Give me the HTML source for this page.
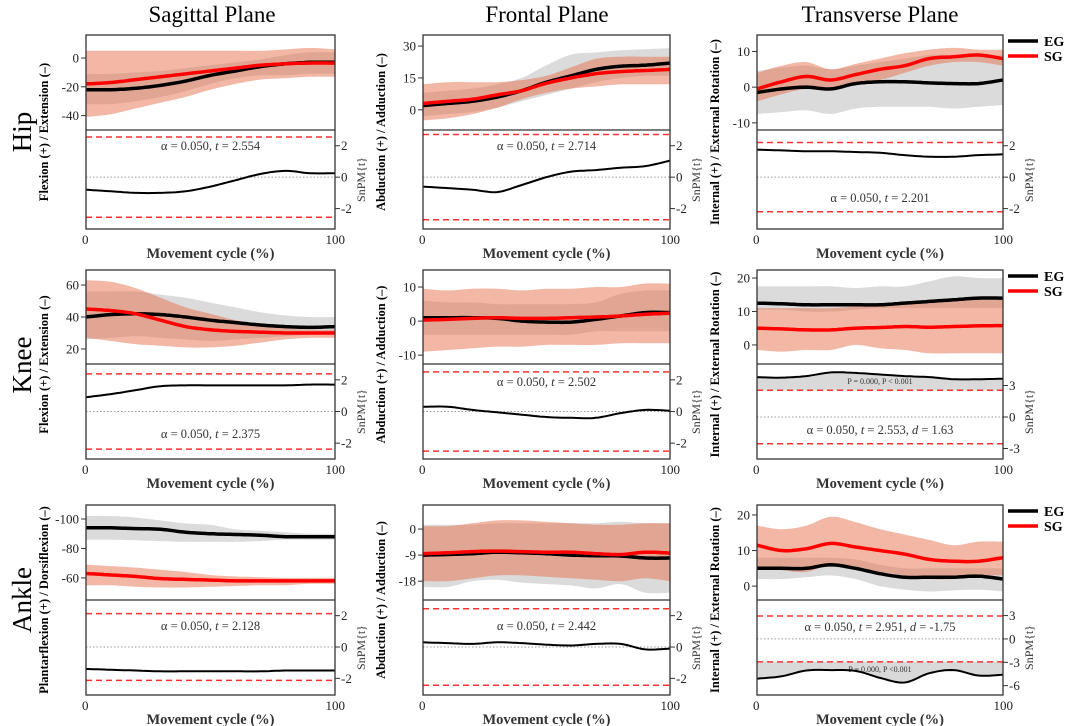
<!DOCTYPE html>
<html><head><meta charset="utf-8">
<style>
html,body{margin:0;padding:0;background:#fff;}
svg{display:block;font-family:"Liberation Serif",serif;}
</style></head>
<body>
<svg id="fig" width="1065" height="726" viewBox="0 0 1065 726" xmlns="http://www.w3.org/2000/svg">
<text x="212" y="22" font-size="23" text-anchor="middle">Sagittal Plane</text>
<text x="547" y="22" font-size="23" text-anchor="middle">Frontal Plane</text>
<text x="880" y="22" font-size="23" text-anchor="middle">Transverse Plane</text>
<text transform="translate(31,132) rotate(-90)" font-size="27" text-anchor="middle">Hip</text>
<text transform="translate(31,365) rotate(-90)" font-size="27" text-anchor="middle">Knee</text>
<text transform="translate(31,600) rotate(-90)" font-size="27" text-anchor="middle">Ankle</text>
</svg>
<script>
// x grid (% movement cycle)
const cyclePct = [0,10,20,30,40,50,60,70,80,90,100];

// Hip sagittal
const hipSagEG = [-22,-22,-21,-19,-16,-12,-9,-6,-4,-3,-3];
const hipSagEGLo = [-32,-32,-30,-27,-23,-18,-14,-12,-12,-11,-11];
const hipSagEGHi = [-11,-11,-10,-9,-7,-5,-3,-1,2,4,4];
const hipSagSG = [-18,-17,-15,-13,-11,-9,-7,-5,-4,-3.5,-3.5];
const hipSagSGLo = [-41,-39,-35,-31,-27,-22,-18,-15,-14,-13,-13];
const hipSagSGHi = [5,5,5,5,5,5,5,5,6,7,6];
const hipSagT = [-0.8,-0.9,-1.0,-1.0,-0.9,-0.6,-0.2,0.2,0.4,0.25,0.25];
// Hip frontal
const hipFroEG = [2,3,4,6,9,13,16,19,20.5,21,22];
const hipFroEGLo = [-3,-2,-1,1,4,7,10,13,15,16,16];
const hipFroEGHi = [8,9,10,12,15,21,26,27,28,28.5,29];
const hipFroSG = [3,4,5,7,9,12.5,15,17,18,18.5,19];
const hipFroSGLo = [-5,-4,-2,1,5,8,10,11,12,12,12];
const hipFroSGHi = [12,13,13,13,14,16,20,24,25,25,25];
const hipFroT = [-0.6,-0.7,-0.8,-0.95,-0.5,0,0.35,0.45,0.6,0.7,1.05];
// Hip transverse
const hipTraEG = [-1.5,-0.5,0,-0.5,1,1.5,1.5,1.2,1,1,2];
const hipTraEGLo = [-7.5,-7,-6.5,-7.5,-6,-5.5,-5.5,-5.5,-6,-5.5,-5];
const hipTraEGHi = [4.5,5.5,6,5,6,7,8,9,9,8.5,9];
const hipTraSG = [-0.5,1.5,3,2,3.5,5,6,8,8.5,9,8];
const hipTraSGLo = [-4,-2,-0.5,-1,1,2,4,6,7,7,6];
const hipTraSGHi = [4,6,7,5,6.5,8,9.5,10.5,11,10.5,10.5];
const hipTraT = [1.75,1.7,1.65,1.65,1.6,1.55,1.4,1.3,1.3,1.4,1.45];
// Knee sagittal
const kneeSagEG = [40,41.5,42,41.5,40,38,36.5,35,34,33.5,34];
const kneeSagEGLo = [26,27,28,27,26,25,26,27,28,29,30];
const kneeSagEGHi = [56,56,56,54,52,49,46,43,41,40,40];
const kneeSagSG = [45,44,42,38,34,32,31,30.5,30,30,30];
const kneeSagSGLo = [27,25,23,22,21,21,22,24,26,27,27];
const kneeSagSGHi = [63,62,58,52,46,42,38,35,33,32,32];
const kneeSagT = [0.9,1.1,1.35,1.6,1.65,1.65,1.65,1.65,1.65,1.7,1.7];
// Knee frontal
const kneeFroEG = [1,1,1,0.8,0,-0.3,-0.3,0.5,1.5,2.5,2.5];
const kneeFroEGLo = [-4,-4,-4,-4,-4,-4,-4,-3,-3,-3,-3];
const kneeFroEGHi = [6,5.5,5.5,5,5,5,5,5.5,8,9,9];
const kneeFroSG = [0.3,0.5,0.8,1,0.8,0.8,1,1.2,1.5,2,2.3];
const kneeFroSGLo = [-9,-8.5,-8,-7.5,-7.5,-7,-7,-7,-6.5,-6.5,-6.5];
const kneeFroSGHi = [9.5,9,9.5,9.5,9,9.5,9.5,10,10,11,11];
const kneeFroT = [0.3,0.3,0.1,-0.05,-0.2,-0.35,-0.4,-0.4,-0.1,0.1,0.05];
// Knee transverse
const kneeTraEG = [12.5,12.3,12,12,12,12,12.5,13,13.5,14,14];
const kneeTraEGLo = [10.5,10.5,10,10,10.5,11,11,11,11,11,11];
const kneeTraEGHi = [17.5,17.5,17.5,17.5,17,17.5,17.5,19,20.5,20,20];
const kneeTraSG = [5,4.8,4.5,4.5,5,5.2,5.5,5.3,5.5,5.7,5.8];
const kneeTraSGLo = [-1.5,-2,-1.5,-1.5,0,-1,-1.5,-2.5,-2.5,-2.5,-2.5];
const kneeTraSGHi = [11,11,11,11,11.5,12,12.5,13,13.5,13.5,13.5];
const kneeTraT = [3.8,3.75,3.9,4.25,4.2,4.05,3.9,3.8,3.6,3.6,3.65];
// Ankle sagittal
const ankSagEG = [-94,-94,-93.5,-93,-91,-90,-89.5,-89,-88,-88,-88];
const ankSagEGLo = [-102,-102,-101,-99,-97,-96,-93,-92,-91,-90,-90];
const ankSagEGHi = [-86,-86,-85.5,-85,-84.5,-84.5,-84.5,-85,-86,-86,-86];
const ankSagSG = [-63,-62,-61,-59.5,-59,-58.5,-58,-58,-58,-58,-58];
const ankSagSGLo = [-69,-68,-67,-65.5,-64,-62,-61,-60.5,-60,-60,-60];
const ankSagSGHi = [-55,-55,-54,-53.5,-53.5,-54,-54.5,-55,-55,-56,-56];
const ankSagT = [-1.4,-1.45,-1.5,-1.55,-1.55,-1.55,-1.55,-1.55,-1.5,-1.5,-1.5];
// Ankle frontal
const ankFroEG = [-9,-8.8,-8.5,-8,-8.2,-8.5,-9,-9.2,-9.3,-10,-10];
const ankFroEGLo = [-20,-20,-18,-17.5,-18.5,-19,-19.5,-20.5,-19,-22,-22];
const ankFroEGHi = [1.5,1.5,1.5,2,2,2,2,2,2.5,2,2];
const ankFroSG = [-8.5,-8.2,-7.8,-7.6,-7.8,-8,-8,-8.5,-8.8,-8,-8.3];
const ankFroSGLo = [-18,-18,-17,-16,-16,-16.5,-17,-17.5,-18,-17,-18];
const ankFroSGHi = [1,1,2,3,3,2.5,2,1.5,1.5,2,2];
const ankFroT = [0.3,0.25,0.2,0.3,0.25,0.15,0.1,0.2,0.2,-0.15,-0.1];
// Ankle transverse
const ankTraEG = [5,5,5,6,5,3.5,2.5,2.5,2.5,2.8,2];
const ankTraEGLo = [2,2,2.5,3,2,0,-1,-1.5,-1.2,-1,-1.5];
const ankTraEGHi = [8,8,8,8,7.5,6,5,5,5,5,5];
const ankTraSG = [11.5,10,10.5,12,11,10,9,7.5,7,7,8];
const ankTraSGLo = [5,4.5,4,6,5,4,3,2,2,3,3];
const ankTraSGHi = [17,16,17,19.5,18,16,14.5,13,11.5,12.5,12.5];
const ankTraT = [-5.1,-4.8,-4.05,-4.0,-4.1,-5.0,-5.6,-4.4,-4.0,-4.7,-4.6];

// tick labels / thresholds
const hipSagTicks = [0,-20,-40], hipFroTicks = [30,15,0], hipTraTicks = [10,0,-10];
const kneeSagTicks = [60,40,20], kneeFroTicks = [10,0,-10], kneeTraTicks = [20,10,0];
const ankSagTicks = [-100,-80,-60], ankFroTicks = [0,-9,-18], ankTraTicks = [20,10,0];
const tTicks2 = [2,0,-2], tTicks3 = [3,0,-3], tTicks36 = [3,0,-3,-6];
const thresholds = [2.554,2.714,2.201,2.375,2.502,2.553,2.128,2.442,2.951];
const effectSizes = [null,null,null,null,null,"1.63",null,null,"-1.75"];
const yTitles = ["Flexion (+) / Extension (–)","Abduction (+) / Adduction (–)","Internal (+) / External Rotation (–)",
 "Flexion (+) / Extension (–)","Abduction (+) / Adduction (–)","Internal (+) / External Rotation (–)",
 "Plantarflexion (+) / Dorsiflexion (–)","Abduction (+) / Adduction (–)","Internal (+) / External Rotation (–)"];

const rows=[{top:35,split:130,bottom:229,name:'hip'},{top:270,split:364,bottom:459,name:'knee'},{top:505,split:600,bottom:695,name:'ankle'}];
const cols=[{x0:86,x1:335,name:'sagittal'},{x0:423,x1:670,name:'frontal'},{x0:757,x1:1003,name:'transverse'}];
const panels=[
 {eg:hipSagEG,egLo:hipSagEGLo,egHi:hipSagEGHi,sg:hipSagSG,sgLo:hipSagSGLo,sgHi:hipSagSGHi,t:hipSagT,yd:[16,-50],ticks:hipSagTicks,td:[3.0,-3.3],tt:tTicks2,sy:150},
 {eg:hipFroEG,egLo:hipFroEGLo,egHi:hipFroEGHi,sg:hipFroSG,sgLo:hipFroSGLo,sgHi:hipFroSGHi,t:hipFroT,yd:[35.2,-9.5],ticks:hipFroTicks,td:[3.0,-3.3],tt:tTicks2,sy:150},
 {eg:hipTraEG,egLo:hipTraEGLo,egHi:hipTraEGHi,sg:hipTraSG,sgLo:hipTraSGLo,sgHi:hipTraSGHi,t:hipTraT,yd:[14.6,-12],ticks:hipTraTicks,td:[3.0,-3.3],tt:tTicks2,sy:202},
 {eg:kneeSagEG,egLo:kneeSagEGLo,egHi:kneeSagEGHi,sg:kneeSagSG,sgLo:kneeSagSGLo,sgHi:kneeSagSGHi,t:kneeSagT,yd:[69.4,10.6],ticks:kneeSagTicks,td:[3.0,-3.0],tt:tTicks2,sy:438},
 {eg:kneeFroEG,egLo:kneeFroEGLo,egHi:kneeFroEGHi,sg:kneeFroSG,sgLo:kneeFroSGLo,sgHi:kneeFroSGHi,t:kneeFroT,yd:[15,-12.6],ticks:kneeFroTicks,td:[3.0,-3.0],tt:tTicks2,sy:386},
 {eg:kneeTraEG,egLo:kneeTraEGLo,egHi:kneeTraEGHi,sg:kneeTraSG,sgLo:kneeTraSGLo,sgHi:kneeTraSGHi,t:kneeTraT,yd:[22.4,-5.7],ticks:kneeTraTicks,td:[5.05,-4.0],tt:tTicks3,sy:434,cluster:1},
 {eg:ankSagEG,egLo:ankSagEGLo,egHi:ankSagEGHi,sg:ankSagSG,sgLo:ankSagSGLo,sgHi:ankSagSGHi,t:ankSagT,yd:[-109.5,-45],ticks:ankSagTicks,td:[3.0,-3.06],tt:tTicks2,sy:630},
 {eg:ankFroEG,egLo:ankFroEGLo,egHi:ankFroEGHi,sg:ankFroSG,sgLo:ankFroSGLo,sgHi:ankFroSGHi,t:ankFroT,yd:[8.3,-24.5],ticks:ankFroTicks,td:[3.0,-3.06],tt:tTicks2,sy:630},
 {eg:ankTraEG,egLo:ankTraEGLo,egHi:ankTraEGHi,sg:ankTraSG,sgLo:ankTraSGLo,sgHi:ankTraSGHi,t:ankTraT,yd:[22.8,-3.9],ticks:ankTraTicks,td:[5.0,-7.2],tt:tTicks36,sy:631,cluster:-1}
];

const NS='http://www.w3.org/2000/svg';
const svg=document.getElementById('fig');
function mk(tag,attrs,parent){const e=document.createElementNS(NS,tag);for(const k in attrs)e.setAttribute(k,attrs[k]);(parent||svg).appendChild(e);return e;}
function lin(d0,d1,r0,r1){return v=>r0+(v-d0)/(d1-d0)*(r1-r0);}
function smooth(xs,ys){const out=[];for(let i=0;i<xs.length-1;i++){const p0=[xs[Math.max(0,i-1)],ys[Math.max(0,i-1)]],p1=[xs[i],ys[i]],p2=[xs[i+1],ys[i+1]],p3=[xs[Math.min(xs.length-1,i+2)],ys[Math.min(xs.length-1,i+2)]];
 for(let s=0;s<8;s++){const t=s/8,t2=t*t,t3=t2*t;const f=(a,b,c,d)=>0.5*((2*b)+(-a+c)*t+(2*a-5*b+4*c-d)*t2+(-a+3*b-3*c+d)*t3);out.push([f(p0[0],p1[0],p2[0],p3[0]),f(p0[1],p1[1],p2[1],p3[1])]);}}
 out.push([xs[xs.length-1],ys[ys.length-1]]);return out;}
function pts2d(p){return p.map((q,i)=>(i?'L':'M')+q[0].toFixed(1)+','+q[1].toFixed(1)).join('');}
function span(parent,txt,italic){const s=mk('tspan',italic?{'font-style':'italic'}:{},parent);s.textContent=txt;return s;}

panels.forEach((P,idx)=>{
 const R=rows[Math.floor(idx/3)],C=cols[idx%3];
 const id=R.name+'-'+C.name;
 const g=mk('g',{});
 
 
 const clipId='clip'+idx;
 const cp=mk('clipPath',{id:clipId},g);mk('rect',{x:C.x0,y:R.top,width:C.x1-C.x0,height:R.bottom-R.top},cp);
 const xs=lin(0,100,C.x0,C.x1);
 const ys=lin(P.yd[0],P.yd[1],R.top,R.split);
 const ts=lin(P.td[0],P.td[1],R.split,R.bottom);
 const X=cyclePct.map(xs);
 const band=(lo,hi,fill,op,nm)=>{const a=smooth(X,hi.map(ys)),b=smooth(X,lo.map(ys)).reverse();
  const e=mk('path',{d:pts2d(a.concat(b))+'Z',fill:fill,'fill-opacity':op,'clip-path':'url(#'+clipId+')'},g);
  
  };
 band(P.egLo,P.egHi,'#cfcfcf',0.75,id+'-eg-sd-band');
 band(P.sgLo,P.sgHi,'#e8704d',0.5,id+'-sg-sd-band');
 const line=(v,col,w,nm,sc)=>{const e=mk('path',{d:pts2d(smooth(X,v.map(sc))),fill:'none',stroke:col,'stroke-width':w,'stroke-linejoin':'round','clip-path':'url(#'+clipId+')'},g);
  
  };
 line(P.eg,'#000',3.5,id+'-eg-mean-line',ys);
 line(P.sg,'#ff0000',3.5,id+'-sg-mean-line',ys);
 P.ticks.forEach(v=>{const y=ys(v);mk('line',{x1:C.x0-5,x2:C.x0,y1:y,y2:y,stroke:'#333','stroke-width':1},g);
  const t=mk('text',{x:C.x0-7,y:y+4.5,'font-size':13,'text-anchor':'end',fill:'#222'},g);t.textContent=String(v);
  
  });
 const thr=thresholds[idx];
 if(P.cluster){const tv=P.cluster*thr;const sm=smooth(X,P.t.map(ts));const e=mk('path',{d:pts2d(sm)+'L'+C.x1+','+ts(tv)+'L'+C.x0+','+ts(tv)+'Z',fill:'#d9d9d9','clip-path':'url(#'+clipId+')'},g);
  
  
  const ty=P.cluster>0?ts(tv)-6:ts(tv)+10;
  const ct=mk('text',{x:(C.x0+C.x1)/2,y:ty,'font-size':8,'text-anchor':'middle',fill:'#333'},g);ct.textContent=P.cluster>0?'P = 0.000, P < 0.001':'P = 0.000, P <0.001';
  
  }
 mk('line',{x1:C.x0,x2:C.x1,y1:ts(0),y2:ts(0),stroke:'#999','stroke-width':1,'stroke-dasharray':'1.5,2'},g);
 [thr,-thr].forEach(v=>{const e=mk('line',{x1:C.x0,x2:C.x1,y1:ts(v),y2:ts(v),stroke:'#ff3030','stroke-width':1.5,'stroke-dasharray':'6,4'},g);
  
  });
 line(P.t,'#000',2,id+'-snpm-t-curve',ts);
 P.tt.forEach(v=>{const y=ts(v);mk('line',{x1:C.x1,x2:C.x1+5,y1:y,y2:y,stroke:'#333','stroke-width':1},g);
  const t=mk('text',{x:C.x1+6,y:y+4.5,'font-size':13,fill:'#222'},g);t.textContent=String(v);
  
  });
 const st=mk('text',{x:(C.x0+C.x1)/2,y:P.sy,'font-size':12.5,'text-anchor':'middle',fill:'#333'},g);
 span(st,'α = 0.050, ');span(st,'t',true);span(st,' = '+thr.toFixed(3));
 if(effectSizes[idx]){span(st,', ');span(st,'d',true);span(st,' = '+effectSizes[idx]);}
 
 
 mk('rect',{x:C.x0,y:R.top,width:C.x1-C.x0,height:R.bottom-R.top,fill:'none',stroke:'#333','stroke-width':1.3},g);
 mk('line',{x1:C.x0,x2:C.x1,y1:R.split,y2:R.split,stroke:'#333','stroke-width':1.3},g);
 [[0,'start'],[100,'end']].forEach(([v,a])=>{const t=mk('text',{x:xs(v)+(v?10:-4),y:R.bottom+15,'font-size':13,'text-anchor':a,fill:'#222'},g);t.textContent=String(v);
  
  });
 const xl=mk('text',{x:(C.x0+C.x1)/2,y:R.bottom+29,'font-size':14.5,'font-weight':'bold','text-anchor':'middle',fill:'#333'},g);xl.textContent='Movement cycle (%)';
 
 
 const yt=mk('text',{transform:'translate('+(C.x0-38)+','+((R.top+R.bottom)/2)+') rotate(-90)','font-size':12.5,'font-weight':'bold','text-anchor':'middle'},g);yt.textContent=yTitles[idx];
 
 
 const sn=mk('text',{transform:'translate('+(C.x1+30)+','+((R.split+R.bottom)/2)+') rotate(-90)','font-size':12,'text-anchor':'middle',fill:'#333'},g);sn.textContent='SnPM{t}';
 
 
});
rows.forEach(R=>{
 const lg=mk('g',{});
 
 
 [['EG','#000',R.top+6],['SG','#ff0000',R.top+21]].forEach(([lab,col,y])=>{
  mk('line',{x1:1008,x2:1038,y1:y,y2:y,stroke:col,'stroke-width':3.5},lg);
  const t=mk('text',{x:1044,y:y+5,'font-size':14,'font-weight':'bold'},lg);t.textContent=lab;
  
  
 });
});
</script>
</body></html>
